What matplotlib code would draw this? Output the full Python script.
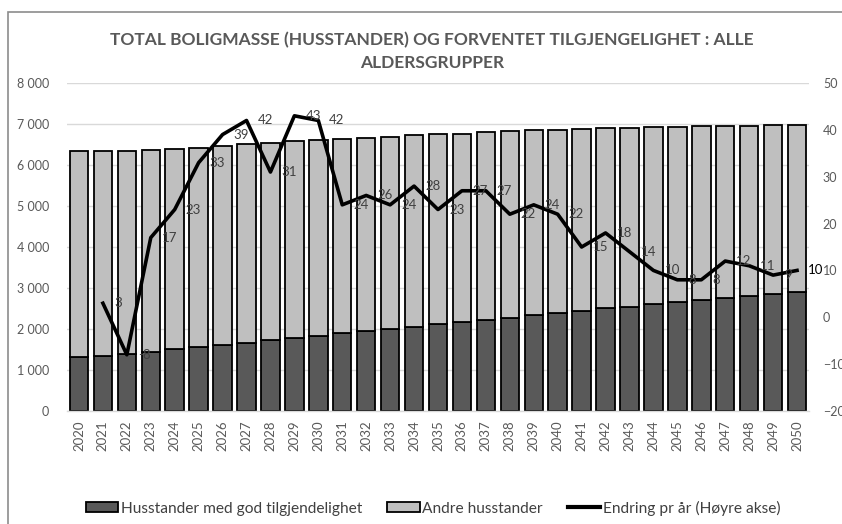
import matplotlib
matplotlib.use("Agg")
import matplotlib.pyplot as plt
from matplotlib.patches import Rectangle
from matplotlib.lines import Line2D
import numpy as np

plt.rcParams['font.family'] = ['Lato', 'DejaVu Sans']

years = [str(y) for y in range(2020, 2051)]
good_access = [1310, 1341, 1398, 1447, 1504, 1561, 1618, 1667, 1724, 1780,
               1837, 1902, 1943, 2000, 2057, 2122, 2163, 2220, 2276, 2341,
               2382, 2447, 2504, 2545, 2610, 2651, 2707, 2748, 2805, 2854, 2895]
total = [6349, 6352, 6345, 6362, 6387, 6425, 6462, 6502, 6530, 6575,
         6620, 6642, 6662, 6685, 6720, 6746, 6766, 6800, 6826, 6846,
         6864, 6882, 6895, 6910, 6923, 6930, 6940, 6950, 6962, 6972, 6985]
other = [t - g for t, g in zip(total, good_access)]
change_years = years[1:]
change = [3, -8, 17, 23, 33, 39, 42, 31, 43, 42,
          24, 26, 24, 28, 23, 27, 27, 22, 24, 22,
          15, 18, 14, 10, 8, 8, 12, 11, 9, 10]

W, H = 842, 524
fig = plt.figure(figsize=(W / 100, H / 100), dpi=100)

# outer chart border
fig.add_artist(Rectangle((8 / W, -0.2), 1.5, 1 - 12 / H + 0.2, transform=fig.transFigure,
                         fill=False, edgecolor='#8c8c8c', linewidth=1.2))

ax = fig.add_axes([67 / W, 1 - 411 / H, (809 - 67) / W, (411 - 83) / H])
x = np.arange(len(years))
bw = 0.77
ax.bar(x, good_access, bw, color='#595959', edgecolor='black', linewidth=1.3, zorder=2,
       label='Husstander med god tilgjendelighet')
ax.bar(x, other, bw, bottom=good_access, color='#BFBFBF', edgecolor='black', linewidth=1.3,
       zorder=2, label='Andre husstander')
ax.set_xlim(-0.5, len(years) - 0.5)
ax.set_ylim(0, 8000)
ax.set_yticks(range(0, 8001, 1000))
ax.set_yticklabels(['0'] + [f'{v // 1000} {v % 1000:03d}' for v in range(1000, 8001, 1000)])
ax.grid(axis='y', color='#D9D9D9', linewidth=1, zorder=0)
ax.set_axisbelow(True)
for s in ['top', 'right', 'left']:
    ax.spines[s].set_visible(False)
ax.spines['bottom'].set_color('#D9D9D9')
ax.spines['bottom'].set_linewidth(1)
ax.set_xticks(x)
ax.set_xticklabels(years, rotation=90, fontsize=9.5, color='#595959')
ax.tick_params(axis='x', length=0, pad=7)
ax.tick_params(axis='y', length=0, pad=13, labelsize=9, labelcolor='#595959')

ax2 = ax.twinx()
ax2.set_ylim(-20, 50)
ax2.set_yticks(range(-20, 51, 10))
for s in ax2.spines.values():
    s.set_visible(False)
ax2.tick_params(axis='y', length=0, pad=10, labelsize=9, labelcolor='#595959')
cx = x[1:]
ax2.plot(cx, change, color='black', linewidth=2.6, zorder=5, solid_joinstyle='round')
for i, (xx, v) in enumerate(zip(cx, change)):
    col = 'black' if i == len(change) - 1 else '#404040'
    ax2.annotate(str(v), (xx, v), xytext=(11, 0), textcoords='offset pixels',
                 ha='left', va='center', fontsize=9.5, color=col, zorder=6)

fig.text(432 / W, 1 - 40 / H, 'TOTAL BOLIGMASSE (HUSSTANDER) OG FORVENTET TILGJENGELIGHET : ALLE',
         ha='center', va='center', fontsize=12.5, fontweight='bold', color='#595959')
fig.text(432 / W, 1 - 63 / H, 'ALDERSGRUPPER',
         ha='center', va='center', fontsize=12.5, fontweight='bold', color='#595959')

handles = [Rectangle((0, 0), 1, 1, facecolor='#595959', edgecolor='black', linewidth=1.3),
           Rectangle((0, 0), 1, 1, facecolor='#BFBFBF', edgecolor='black', linewidth=1.3),
           Line2D([0], [0], color='black', linewidth=3)]
labels = ['Husstander med god tilgjendelighet', 'Andre husstander', 'Endring pr år (Høyre akse)']
fig.legend(handles, labels, loc='center', bbox_to_anchor=(433 / W, 1 - 508 / H), ncol=3,
           frameon=False, fontsize=11.2, handlelength=2.1, handleheight=0.55,
           handletextpad=0.15, columnspacing=1.6, labelcolor='#404040')

fig.savefig('out.png', dpi=100)
